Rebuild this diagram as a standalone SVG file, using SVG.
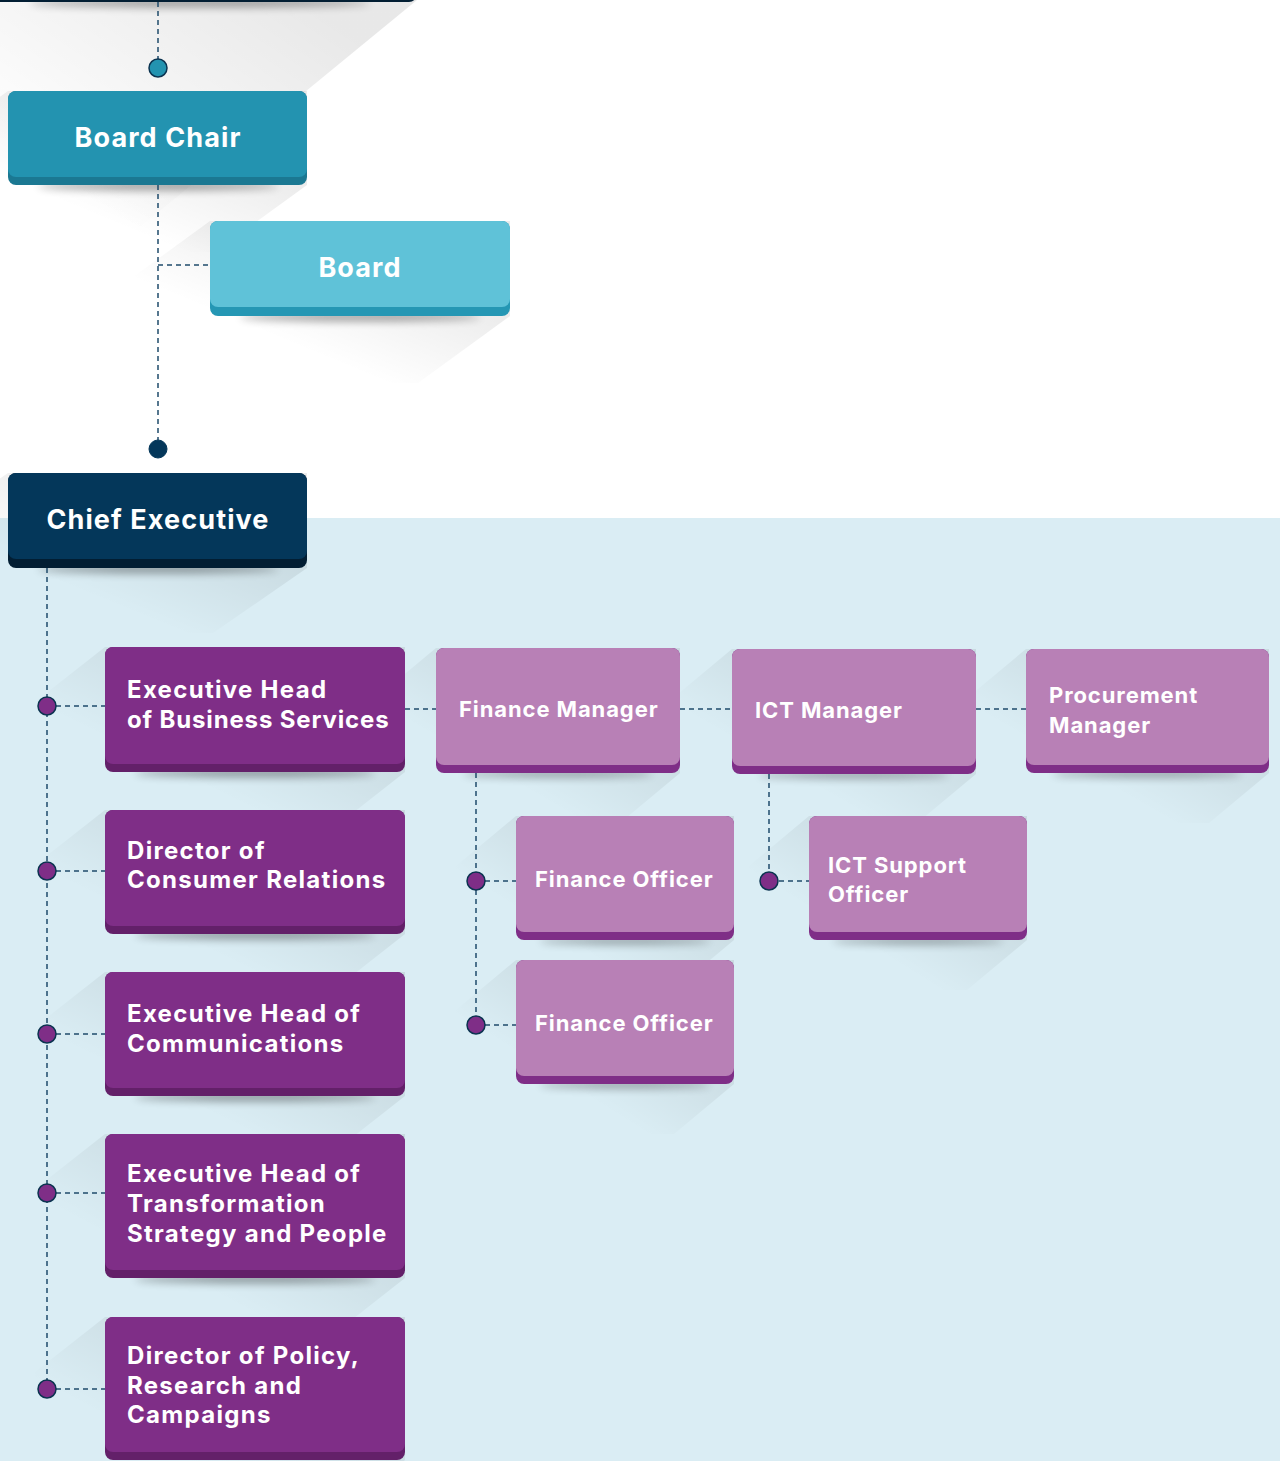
<svg xmlns="http://www.w3.org/2000/svg" width="1280" height="1461" viewBox="0 0 1280 1461">
<defs>
<style>
.dash{stroke:#1f4b6b;stroke-width:1.5;stroke-dasharray:5 4;fill:none}
.dotP{fill:#7f2e87;stroke:#0b3350;stroke-width:1.5}
.t{font-family:Inter,"Liberation Sans",sans-serif;font-weight:700;fill:#fff}
.big{font-size:27px;letter-spacing:1.1px;text-anchor:middle}
.mid{font-size:24px;letter-spacing:1.3px}
.tight{letter-spacing:0.85px}
.sm{font-size:22px;letter-spacing:0.9px}
.ls{fill:url(#lsg)}
.cs{fill:#000;opacity:0.38;filter:url(#blur)}
</style>
<linearGradient id="lsg" x1="1" y1="0" x2="0" y2="1">
<stop offset="0.28" stop-color="#000" stop-opacity="0.08"/>
<stop offset="0.66" stop-color="#000" stop-opacity="0"/>
</linearGradient>
<linearGradient id="topg" x1="1" y1="0" x2="0" y2="0.9">
<stop offset="0.15" stop-color="#000" stop-opacity="0.09"/>
<stop offset="0.8" stop-color="#000" stop-opacity="0"/>
</linearGradient>
<filter id="blur" x="-20%" y="-300%" width="140%" height="700%"><feGaussianBlur stdDeviation="4"/></filter>
</defs>
<rect x="0" y="0" width="1280" height="1461" fill="#ffffff"/>
<rect x="0" y="518" width="1280" height="943" fill="#daedf4"/>

<g id="shadows">
<polygon fill="url(#topg)" points="-20,0 417,0 100,260 -20,260"/>
<polygon class="ls" points="8,91 307,91 307,185 215,252 -84,252 -84,158"/>
<polygon class="ls" points="210,221 510,221 510,316 418,383 118,383 118,288"/>
<polygon class="ls" points="8,473 307,473 307,568 213,633 -86,633 -86,538"/>
<polygon class="ls" points="105,647 405,647 405,772 335,827 35,827 35,702"/>
<polygon class="ls" points="105,810 405,810 405,934 335,989 35,989 35,865"/>
<polygon class="ls" points="105,972 405,972 405,1096 335,1151 35,1151 35,1027"/>
<polygon class="ls" points="105,1134 405,1134 405,1278 335,1333 35,1333 35,1189"/>
<polygon class="ls" points="105,1317 405,1317 405,1460 335,1515 35,1515 35,1372"/>
<polygon class="ls" points="436,648 680,648 680,773 620,823 376,823 376,698"/>
<polygon class="ls" points="732,649 976,649 976,774 916,824 672,824 672,699"/>
<polygon class="ls" points="1026,649 1269,649 1269,773 1209,823 966,823 966,699"/>
<polygon class="ls" points="516,816 734,816 734,940 674,990 456,990 456,866"/>
<polygon class="ls" points="516,960 734,960 734,1084 674,1134 456,1134 456,1010"/>
<polygon class="ls" points="809,816 1027,816 1027,940 967,990 749,990 749,866"/>
<ellipse class="cs" cx="200" cy="3" rx="170" ry="4"/>
<ellipse class="cs" cx="158" cy="186" rx="120" ry="4"/>
<ellipse class="cs" cx="360" cy="317" rx="120" ry="4"/>
<ellipse class="cs" cx="158" cy="569" rx="120" ry="4"/>
<ellipse class="cs" cx="255" cy="773" rx="120" ry="4"/>
<ellipse class="cs" cx="255" cy="935" rx="120" ry="4"/>
<ellipse class="cs" cx="255" cy="1097" rx="120" ry="4"/>
<ellipse class="cs" cx="255" cy="1279" rx="120" ry="4"/>
<ellipse class="cs" cx="558" cy="774" rx="95" ry="3"/>
<ellipse class="cs" cx="854" cy="775" rx="95" ry="3"/>
<ellipse class="cs" cx="1147" cy="774" rx="95" ry="3"/>
<ellipse class="cs" cx="625" cy="941" rx="85" ry="3"/>
<ellipse class="cs" cx="625" cy="1085" rx="85" ry="3"/>
<ellipse class="cs" cx="918" cy="941" rx="85" ry="3"/>
</g>

<g id="connectors">
<path class="dash" d="M158,2 V59"/>
<path class="dash" d="M158,185 V440 M158,265 H210"/>
<path class="dash" d="M47,568 V1389"/>
<path class="dash" d="M47,706 H105 M47,871 H105 M47,1034 H105 M47,1193 H105 M47,1389 H105"/>
<path class="dash" d="M405,709 H436 M680,709 H732 M976,709 H1026"/>
<path class="dash" d="M476,773 V1025 M476,881 H516 M476,1025 H516"/>
<path class="dash" d="M769,774 V881 H809"/>
<circle cx="158" cy="68" r="9" fill="#2393b0" stroke="#0b3350" stroke-width="1.5"/>
<circle cx="158" cy="449" r="9" fill="#04375a" stroke="#04375a" stroke-width="1"/>
<circle class="dotP" cx="47" cy="706" r="9"/>
<circle class="dotP" cx="47" cy="871" r="9"/>
<circle class="dotP" cx="47" cy="1034" r="9"/>
<circle class="dotP" cx="47" cy="1193" r="9"/>
<circle class="dotP" cx="47" cy="1389" r="9"/>
<circle class="dotP" cx="476" cy="881" r="9"/>
<circle class="dotP" cx="476" cy="1025" r="9"/>
<circle class="dotP" cx="769" cy="881" r="9"/>
</g>

<g id="top-node">
<rect x="-20" y="-80" width="437" height="82" rx="8" fill="#021e33"/>
</g>

<g id="board-chair">
<rect x="8" y="91" width="299" height="94" rx="8" fill="#1b7892"/>
<rect x="8" y="91" width="299" height="86" rx="8" fill="#2393b0"/>
<text class="t big" x="158" y="147">Board Chair</text>
</g>

<g id="board">
<rect x="210" y="221" width="300" height="95" rx="8" fill="#2597b4"/>
<rect x="210" y="221" width="300" height="86" rx="8" fill="#5fc2d8"/>
<text class="t big" x="360" y="277">Board</text>
</g>

<g id="chief-executive">
<rect x="8" y="473" width="299" height="95" rx="8" fill="#021e33"/>
<rect x="8" y="473" width="299" height="86" rx="8" fill="#04375a"/>
<text class="t big" x="158" y="529">Chief Executive</text>
</g>

<g id="exec-business-services">
<rect x="105" y="647" width="300" height="125" rx="8" fill="#632069"/>
<rect x="105" y="647" width="300" height="117" rx="8" fill="#7f2e87"/>
<text class="t mid" x="127" y="698">Executive Head</text>
<text class="t mid tight" x="127" y="728">of Business Services</text>
</g>

<g id="director-consumer-relations">
<rect x="105" y="810" width="300" height="124" rx="8" fill="#632069"/>
<rect x="105" y="810" width="300" height="116" rx="8" fill="#7f2e87"/>
<text class="t mid" x="127" y="859">Director of</text>
<text class="t mid" x="127" y="888">Consumer Relations</text>
</g>

<g id="exec-communications">
<rect x="105" y="972" width="300" height="124" rx="8" fill="#632069"/>
<rect x="105" y="972" width="300" height="116" rx="8" fill="#7f2e87"/>
<text class="t mid" x="127" y="1022">Executive Head of</text>
<text class="t mid" x="127" y="1052">Communications</text>
</g>

<g id="exec-transformation">
<rect x="105" y="1134" width="300" height="144" rx="8" fill="#632069"/>
<rect x="105" y="1134" width="300" height="136" rx="8" fill="#7f2e87"/>
<text class="t mid" x="127" y="1182">Executive Head of</text>
<text class="t mid" x="127" y="1212">Transformation</text>
<text class="t mid" x="127" y="1242">Strategy and People</text>
</g>

<g id="director-policy">
<rect x="105" y="1317" width="300" height="143" rx="8" fill="#632069"/>
<rect x="105" y="1317" width="300" height="135" rx="8" fill="#7f2e87"/>
<text class="t mid" x="127" y="1364">Director of Policy,</text>
<text class="t mid" x="127" y="1394">Research and</text>
<text class="t mid" x="127" y="1423">Campaigns</text>
</g>

<g id="finance-manager">
<rect x="436" y="648" width="244" height="125" rx="8" fill="#7f2e87"/>
<rect x="436" y="648" width="244" height="117" rx="8" fill="#b880b6"/>
<text class="t sm" x="459" y="717">Finance Manager</text>
</g>

<g id="ict-manager">
<rect x="732" y="649" width="244" height="125" rx="8" fill="#7f2e87"/>
<rect x="732" y="649" width="244" height="117" rx="8" fill="#b880b6"/>
<text class="t sm" x="755" y="718">ICT Manager</text>
</g>

<g id="procurement-manager">
<rect x="1026" y="649" width="243" height="124" rx="8" fill="#7f2e87"/>
<rect x="1026" y="649" width="243" height="116" rx="8" fill="#b880b6"/>
<text class="t sm" x="1049" y="703">Procurement</text>
<text class="t sm" x="1049" y="733">Manager</text>
</g>

<g id="finance-officer-1">
<rect x="516" y="816" width="218" height="124" rx="8" fill="#7f2e87"/>
<rect x="516" y="816" width="218" height="116" rx="8" fill="#b880b6"/>
<text class="t sm" x="535" y="887">Finance Officer</text>
</g>

<g id="finance-officer-2">
<rect x="516" y="960" width="218" height="124" rx="8" fill="#7f2e87"/>
<rect x="516" y="960" width="218" height="116" rx="8" fill="#b880b6"/>
<text class="t sm" x="535" y="1031">Finance Officer</text>
</g>

<g id="ict-support-officer">
<rect x="809" y="816" width="218" height="124" rx="8" fill="#7f2e87"/>
<rect x="809" y="816" width="218" height="116" rx="8" fill="#b880b6"/>
<text class="t sm" x="828" y="873">ICT Support</text>
<text class="t sm" x="828" y="902">Officer</text>
</g>
</svg>
